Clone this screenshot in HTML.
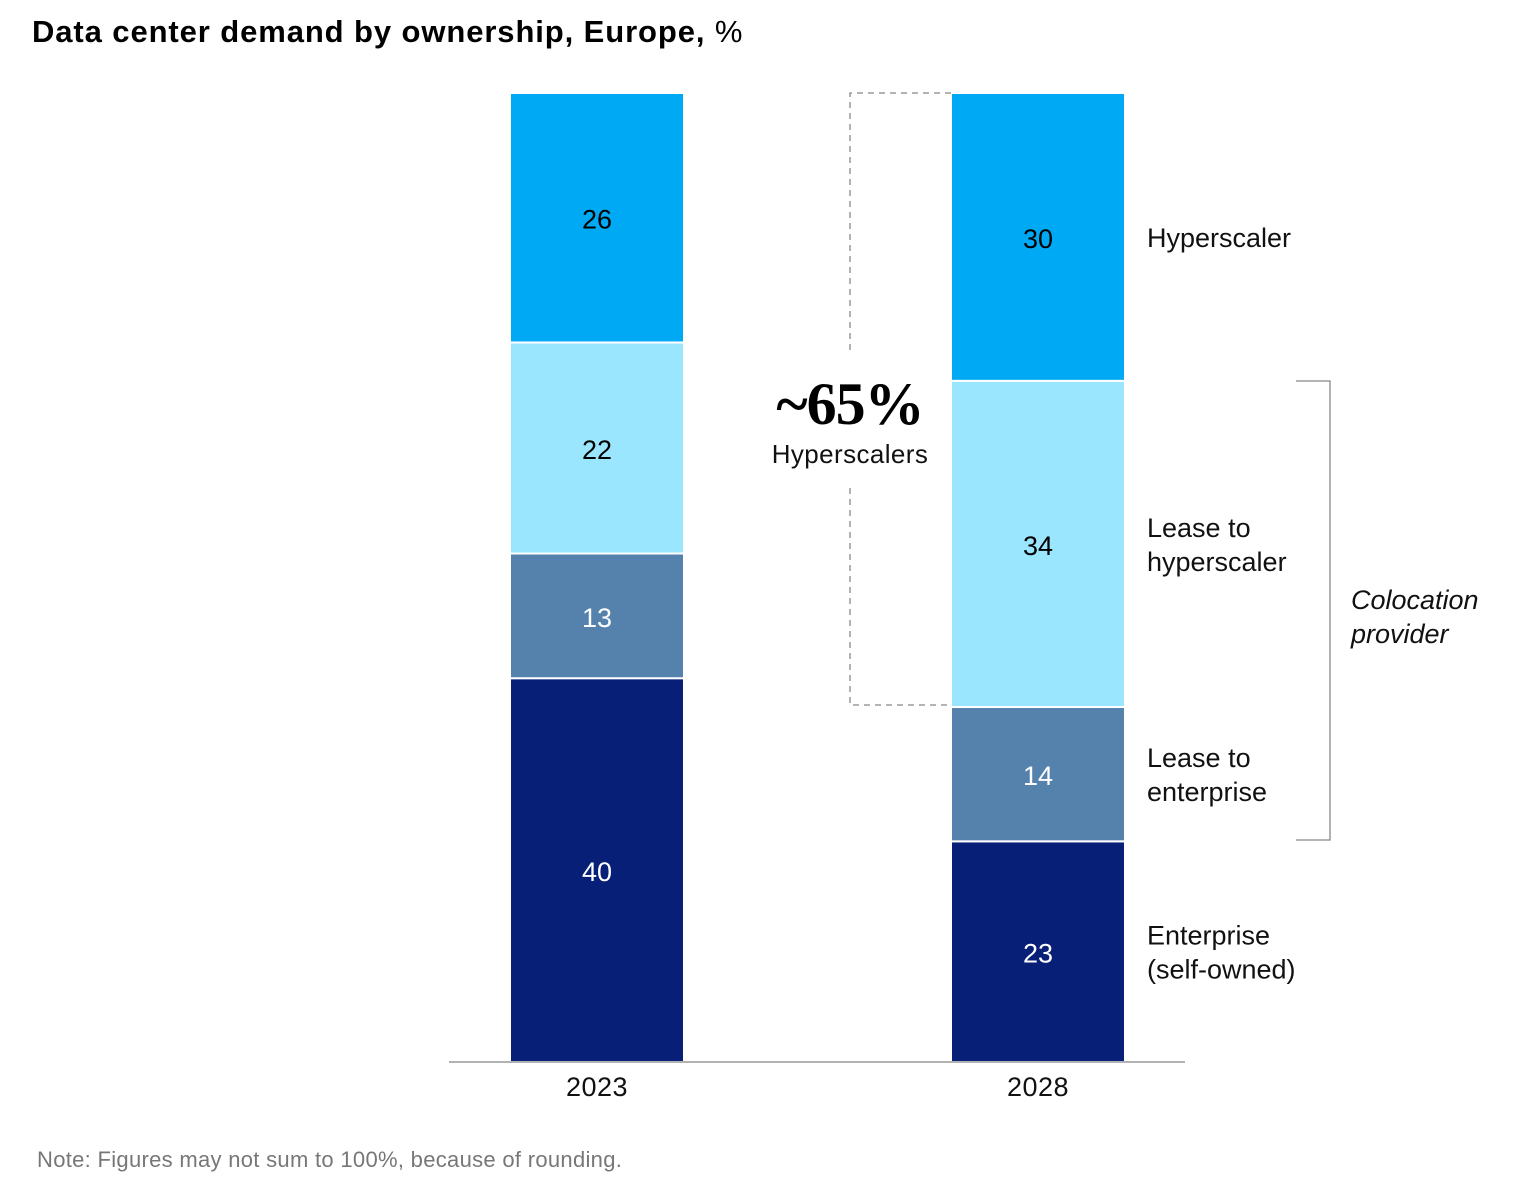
<!DOCTYPE html>
<html><head><meta charset="utf-8"><style>
body{margin:0;background:#fff;}
svg{display:block;font-family:"Liberation Sans",sans-serif;}
</style></head><body>
<svg id="chart" width="1520" height="1202" viewBox="0 0 1520 1202" xmlns="http://www.w3.org/2000/svg">
<text x="32" y="42" font-size="31" font-weight="bold" letter-spacing="0.9" fill="#000">Data center demand by ownership, Europe, <tspan font-weight="normal">%</tspan></text>
<g id="bars"></g>
<line x1="449" y1="1062" x2="1185" y2="1062" stroke="#999" stroke-width="1.5"/>
<path d="M951 93 H850 V350 M850 488 V705 H951" fill="none" stroke="#888" stroke-width="1.3" stroke-dasharray="6,5"/>
<text x="850" y="424" font-size="60" font-weight="bold" font-family="Liberation Serif,serif" text-anchor="middle" letter-spacing="-1">~65%</text>
<text x="850" y="463" font-size="26" text-anchor="middle" letter-spacing="0.4" fill="#111">Hyperscalers</text>
<path d="M1296 381 H1330 V840 H1296" fill="none" stroke="#888" stroke-width="1.3"/>
<text font-size="27" font-style="italic" fill="#111"><tspan x="1351" y="609">Colocation</tspan><tspan x="1351" y="643">provider</tspan></text>
<g id="legend"></g>
<text x="37" y="1167" font-size="22" letter-spacing="0.3" fill="#777">Note: Figures may not sum to 100%, because of rounding.</text>
</svg>
<script>
const years=["2023","2028"];
const enterprise=[40,23];
const leaseEnterprise=[13,14];
const leaseHyperscaler=[22,34];
const hyperscaler=[26,30];
const seriesNames=["Enterprise (self-owned)","Lease to enterprise","Lease to hyperscaler","Hyperscaler"];
const legendLines=[["Enterprise","(self-owned)"],["Lease to","enterprise"],["Lease to","hyperscaler"],["Hyperscaler"]];
const series=[enterprise,leaseEnterprise,leaseHyperscaler,hyperscaler];
const colors=["#071f76","#5581ad","#9ae6ff","#00a9f4"];
const textColors=["#fff","#fff","#000","#000"];
const NS="http://www.w3.org/2000/svg";
const base=1062, scale=969/101, barW=174;
const xPos=i=>510+i*441;
const y=v=>base-v*scale;
const g=document.getElementById('bars');
const lg=document.getElementById('legend');
years.forEach((yr,i)=>{
  let cum=0;
  series.forEach((s,k)=>{
    const v=s[i];
    const y0=y(cum), y1=y(cum+v);
    const r=document.createElementNS(NS,'rect');
    
    
    r.setAttribute('x',xPos(i));r.setAttribute('y',y1);
    r.setAttribute('width',barW);r.setAttribute('height',y0-y1);
    r.setAttribute('fill',colors[k]);r.setAttribute('stroke','#fff');r.setAttribute('stroke-width','2');
    g.appendChild(r);
    const t=document.createElementNS(NS,'text');
    
    
    t.setAttribute('x',xPos(i)+barW/2);t.setAttribute('y',(y0+y1)/2+11);
    t.setAttribute('text-anchor','middle');t.setAttribute('font-size','27');t.setAttribute('fill',textColors[k]);
    t.textContent=v;g.appendChild(t);
    if(i===years.length-1){
      const lines=legendLines[k];
      const mid=(y0+y1)/2+10-(lines.length-1)*17;
      lines.forEach((ln,j)=>{
        const lt=document.createElementNS(NS,'text');
        
        
        lt.setAttribute('x',1147);lt.setAttribute('y',mid+j*34);
        lt.setAttribute('font-size','27');lt.setAttribute('fill','#111');
        lt.textContent=ln;lg.appendChild(lt);
      });
    }
    cum+=v;
  });
  const xt=document.createElementNS(NS,'text');
  
  
  xt.setAttribute('x',xPos(i)+barW/2);xt.setAttribute('y',1096);
  xt.setAttribute('text-anchor','middle');xt.setAttribute('font-size','27');xt.setAttribute('letter-spacing','0.5');xt.setAttribute('fill','#111');
  xt.textContent=yr;g.appendChild(xt);
});
</script>
</body></html>
